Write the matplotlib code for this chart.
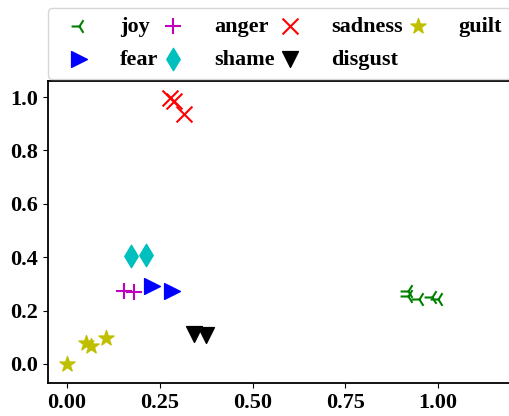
import matplotlib
matplotlib.use("Agg")
import matplotlib.pyplot as plt

plt.rcParams['font.family'] = ['Liberation Serif', 'DejaVu Serif']
plt.rcParams['font.weight'] = 'bold'
plt.rcParams['font.size'] = 16

emotions = ["joy", "fear", "anger", "shame", "sadness", "disgust", "guilt"]
markers = ["3", ">", "+", "d", "x", "v", "*"]
colors = ["g", "b", "m", "c", "r", "k", "y"]

xs = {
    "joy": [0.92, 0.92, 0.95, 0.985, 1.0],
    "fear": [0.228, 0.282],
    "anger": [0.154, 0.181],
    "shame": [0.173, 0.212],
    "sadness": [0.277, 0.288, 0.314],
    "disgust": [0.342, 0.375],
    "guilt": [0.0, 0.05, 0.064, 0.105],
}
ys = {
    "joy": [0.275, 0.255, 0.242, 0.25, 0.245],
    "fear": [0.293, 0.272],
    "anger": [0.275, 0.268],
    "shame": [0.404, 0.408],
    "sadness": [0.998, 0.984, 0.935],
    "disgust": [0.114, 0.11],
    "guilt": [0.0, 0.078, 0.066, 0.096],
}

fig = plt.figure(figsize=(5.1, 4.16), dpi=100)
ax = fig.add_axes([48 / 510, 1 - 383 / 416, 465 / 510, 302 / 416])

for name, m, c in zip(emotions, markers, colors):
    ax.scatter(xs[name], ys[name], marker=m, c=c, s=130, label=name)

ax.set_xlim(-0.0512, 1.202)
ax.set_ylim(-0.0712, 1.06)
ax.set_xticks([0.0, 0.25, 0.5, 0.75, 1.0])
ax.set_yticks([0.0, 0.2, 0.4, 0.6, 0.8, 1.0])
ax.set_xticklabels(["0.00", "0.25", "0.50", "0.75", "1.00"])
ax.set_yticklabels(["0.0", "0.2", "0.4", "0.6", "0.8", "1.0"])
for sp in ax.spines.values():
    sp.set_linewidth(1.3)

fig.legend(loc="lower left", bbox_to_anchor=(48 / 510, 1 - 79 / 416),
           bbox_transform=fig.transFigure, borderaxespad=0, ncol=4,
           handlelength=2.0, handletextpad=0.85, columnspacing=-0.33,
           labelspacing=0.55, scatterpoints=1, fontsize=16)

fig.savefig("out.png", dpi=100)
